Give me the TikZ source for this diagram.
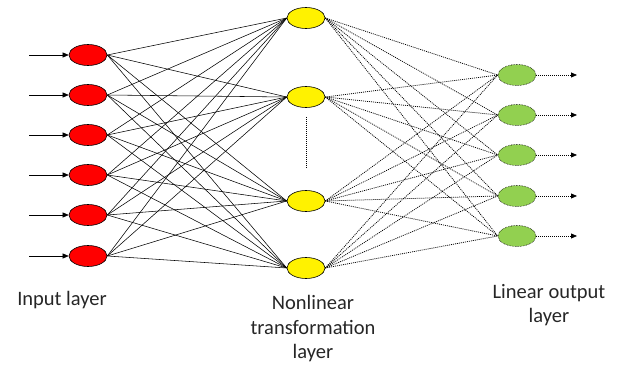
\documentclass[tikz,border=0pt]{standalone}
\usepackage{fontspec}
\setmainfont{Carlito}
\usetikzlibrary{arrows.meta,shapes.geometric}
\definecolor{ingreen}{HTML}{92D050}
\tikzset{
  neuron/.style={ellipse, draw=black, line width=0.6pt, minimum width=38pt, minimum height=21pt, inner sep=0pt},
  inneuron/.style={neuron, fill=red},
  hidneuron/.style={neuron, fill=yellow},
  outneuron/.style={neuron, fill=ingreen, densely dotted},
  solidlink/.style={line width=0.55pt, black},
  dotlink/.style={line width=0.75pt, black, dash pattern=on 1pt off 1pt},
  lbl/.style={font=\fontsize{20.5}{24.5}\selectfont, align=center, text=black!85}
}
\begin{document}
\begin{tikzpicture}[x=1pt,y=-1pt]
\useasboundingbox (0,0) rectangle (619,366);
% input layer
\foreach \i/\y in {1/55,2/95,3/135,4/175,5/215,6/256}{
  \node[inneuron] (in\i) at (88,\y) {};
  \coordinate (src\i) at (29,\y);
}
% hidden layer
\foreach \j/\y in {1/18,2/97,3/201,4/268}{
  \node[hidneuron] (h\j) at (306,\y) {};
}
% output layer
\foreach \k/\y in {1/75,2/115,3/155,4/196,5/236}{
  \node[outneuron] (o\k) at (517,\y) {};
  \coordinate (dst\k) at (577,\y);
}
% input arrows
\foreach \i in {1,...,6}{
  \draw[solidlink, -{Triangle[length=6pt,width=5pt]}] (src\i) -- (in\i.west);
}
% input -> hidden
\foreach \i in {1,...,6}{
  \foreach \j in {1,...,4}{
    \draw[solidlink] (in\i.east) -- (h\j.west);
  }
}
% hidden -> output
\foreach \j in {1,...,4}{
  \foreach \k in {1,...,5}{
    \draw[dotlink] (h\j.east) -- (o\k.west);
  }
}
% output arrows
\foreach \k in {1,...,5}{
  \draw[dotlink, -{Triangle[length=6pt,width=5pt]}] (o\k.east) -- (dst\k);
}
% ellipsis between hidden neurons
\coordinate (vd1) at (306,117);
\coordinate (vd2) at (306,169);
\draw[dotlink] (vd1) -- (vd2);
% labels
\node[lbl] (linput) at (62,300) {Input layer};
\node[lbl] (lhidden) at (313,329) {Nonlinear\\transformation\\layer};
\node[lbl] (loutput) at (549,305) {Linear output\\layer};
\end{tikzpicture}
\end{document}
